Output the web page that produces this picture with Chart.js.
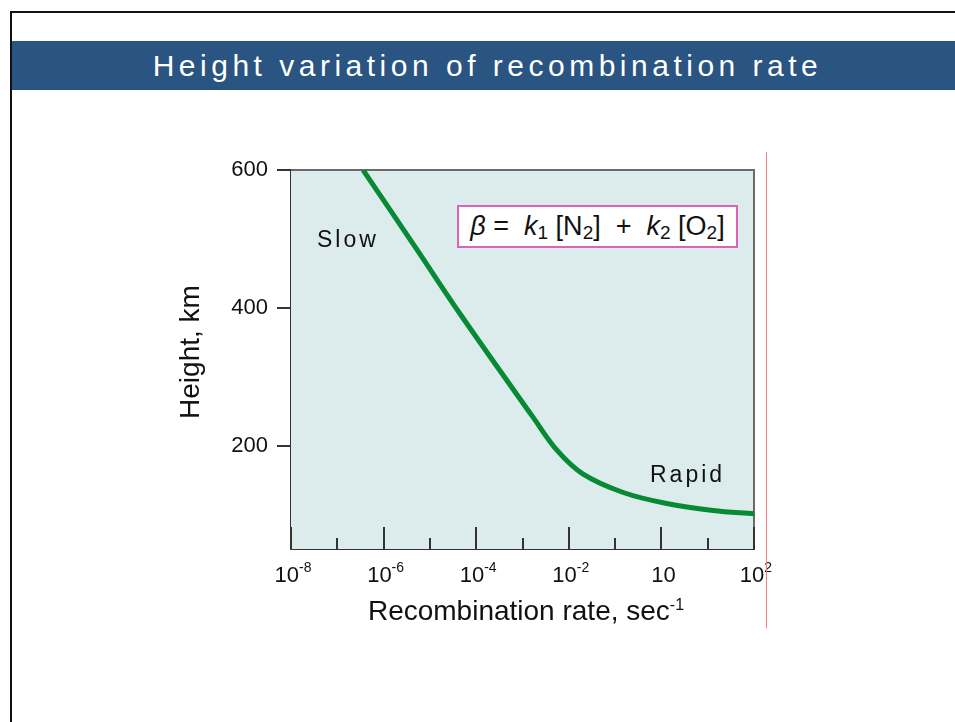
<!DOCTYPE html>
<html>
<head>
<meta charset="utf-8">
<script src="https://cdn.jsdelivr.net/npm/chart.js@4.4.1/dist/chart.umd.min.js"></script>
<style>
  body { margin: 0; background: #fff; font-family: "Liberation Sans", Arial, sans-serif; }
  #slide { position: relative; width: 955px; height: 722px; overflow: hidden; }
  #frameTop { position: absolute; left: 10px; top: 11px; width: 950px; height: 2px; background: #111; }
  #frameLeft { position: absolute; left: 10px; top: 11px; width: 2px; height: 720px; background: #111; }
  #titleBar { position: absolute; left: 12px; top: 41px; width: 943px; height: 49px; background: #2a5481;
    color: #fff; font-size: 30px; letter-spacing: 4.5px; text-align: center; line-height: 49px; padding-left: 8px; box-sizing: border-box; white-space: nowrap; }
  #redLine { position: absolute; left: 766px; top: 152px; width: 1px; height: 476px; background: #f08080; }
  canvas { position: absolute; left: 0; top: 0; }
  .note { position: absolute; font-size: 23px; line-height: 23px; letter-spacing: 3px; color: #111; }
  #formula { position: absolute; left: 457px; top: 205px; width: 281px; height: 43px; box-sizing: border-box;
    border: 2px solid #d865b8; background: #fff; font-size: 27px; color: #111; text-align: center; line-height: 39px; white-space: nowrap; }
  #formula sub { font-size: 19px; vertical-align: -4px; line-height: 0; }
  #xTitle { position: absolute; left: 291px; width: 470px; top: 597px; text-align: center; font-size: 28px; line-height: 28px; color: #111; white-space: nowrap; }
  #xTitle sup { font-size: 16px; vertical-align: 10px; line-height: 0; }
  #yTitle { position: absolute; left: 90px; top: 338px; width: 200px; height: 28px; text-align: center; font-size: 28px; line-height: 28px;
    color: #111; transform: rotate(-90deg); white-space: nowrap; }
</style>
</head>
<body>
<div id="slide">
  <div id="frameTop"></div>
  <div id="frameLeft"></div>
  <div id="titleBar">Height variation of recombination rate</div>
  <canvas id="chart" width="955" height="722"></canvas>
  <div id="redLine"></div>
  <div class="note" style="left:317px; top:228px;">Slow</div>
  <div class="note" style="left:650px; top:463px;">Rapid</div>
  <div id="formula"><i>&beta;</i> =&nbsp; <i>k</i><sub>1</sub> [N<sub>2</sub>]&nbsp; +&nbsp; <i>k</i><sub>2</sub> [O<sub>2</sub>]</div>
  <div id="xTitle">Recombination rate, sec<sup>-1</sup></div>
  <div id="yTitle">Height, km</div>
</div>
<script>
// curve: recombination rate (1/s) vs height (km)
const rates = [3.6e-7, 5.3e-6, 4.5e-5, 1.7e-3, 5.6e-3, 2.0e-2, 0.15, 1.3, 13, 100];
const heights = [600, 484, 391, 241, 193, 159, 132, 116, 106, 101];

const heightTicks = [200, 400, 600];
const majorRates = [1e-8, 1e-6, 1e-4, 1e-2, 1, 1e2];
const majorBase = ['10', '10', '10', '10', '10', '10'];
const majorSup = ['-8', '-6', '-4', '-2', '', '2'];
const minorRates = [1e-7, 1e-5, 1e-3, 1e-1, 10];

const FONT = '"Liberation Sans", Arial, sans-serif';

// plot background, top/right frame, inward x ticks and their labels
const plotDecor = {
  id: 'plotDecor',
  beforeDatasetsDraw(chart) {
    const { ctx, chartArea: a } = chart;
    ctx.save();
    ctx.fillStyle = '#dcecec';
    ctx.fillRect(a.left, a.top, a.right - a.left, a.bottom - a.top);
    ctx.strokeStyle = '#6a6a6a';
    ctx.lineWidth = 2;
    ctx.beginPath();
    ctx.moveTo(a.left, a.top);
    ctx.lineTo(a.right, a.top);
    ctx.lineTo(a.right, a.bottom);
    ctx.stroke();
    const x = chart.scales.x;
    ctx.strokeStyle = '#333';
    ctx.lineWidth = 2;
    majorRates.forEach(v => {
      const px = Math.round(x.getPixelForValue(v));
      ctx.beginPath();
      ctx.moveTo(px, a.bottom);
      ctx.lineTo(px, a.bottom - 22);
      ctx.stroke();
    });
    minorRates.forEach(v => {
      const px = Math.round(x.getPixelForValue(v));
      ctx.beginPath();
      ctx.moveTo(px, a.bottom);
      ctx.lineTo(px, a.bottom - 11);
      ctx.stroke();
    });
    ctx.restore();
  },
  afterDraw(chart) {
    const { ctx, chartArea: a } = chart;
    const x = chart.scales.x;
    ctx.save();
    ctx.fillStyle = '#111';
    ctx.textBaseline = 'alphabetic';
    majorRates.forEach((v, i) => {
      const px = x.getPixelForValue(v);
      ctx.font = '22px ' + FONT;
      const wb = ctx.measureText(majorBase[i]).width;
      ctx.font = '14px ' + FONT;
      const ws = ctx.measureText(majorSup[i]).width;
      const left = px - (wb + ws) / 2 + 2;
      ctx.font = '22px ' + FONT;
      ctx.fillText(majorBase[i], left, a.bottom + 33);
      ctx.font = '14px ' + FONT;
      ctx.fillText(majorSup[i], left + wb, a.bottom + 23);
    });
    ctx.restore();
  }
};

new Chart(document.getElementById('chart'), {
  type: 'line',
  data: {
    datasets: [{
      data: rates.map((r, i) => ({ x: r, y: heights[i] })),
      borderColor: '#078a34',
      borderWidth: 5,
      pointRadius: 0,
      tension: 0.35,
      fill: false
    }]
  },
  options: {
    responsive: false,
    animation: false,
    devicePixelRatio: 1,
    layout: { padding: { left: 150, right: 201, top: 170, bottom: 93 } },
    plugins: { legend: { display: false }, tooltip: { enabled: false } },
    scales: {
      x: {
        type: 'logarithmic',
        min: 1e-8,
        max: 1e2,
        ticks: { display: false },
        grid: { display: false },
        border: { display: true, color: '#333', width: 2 },
        afterFit(s) { s.height = 80; }
      },
      y: {
        min: 50,
        max: 600,
        afterBuildTicks(s) { s.ticks = heightTicks.map(v => ({ value: v })); },
        ticks: { color: '#111', padding: 9, font: { family: FONT, size: 22 } },
        grid: { drawOnChartArea: false, drawTicks: true, tickLength: 14, color: '#333', lineWidth: 2 },
        border: { display: true, color: '#333', width: 2 },
        afterFit(s) { s.width = 141; }
      }
    }
  },
  plugins: [plotDecor]
});
</script>
</body>
</html>
